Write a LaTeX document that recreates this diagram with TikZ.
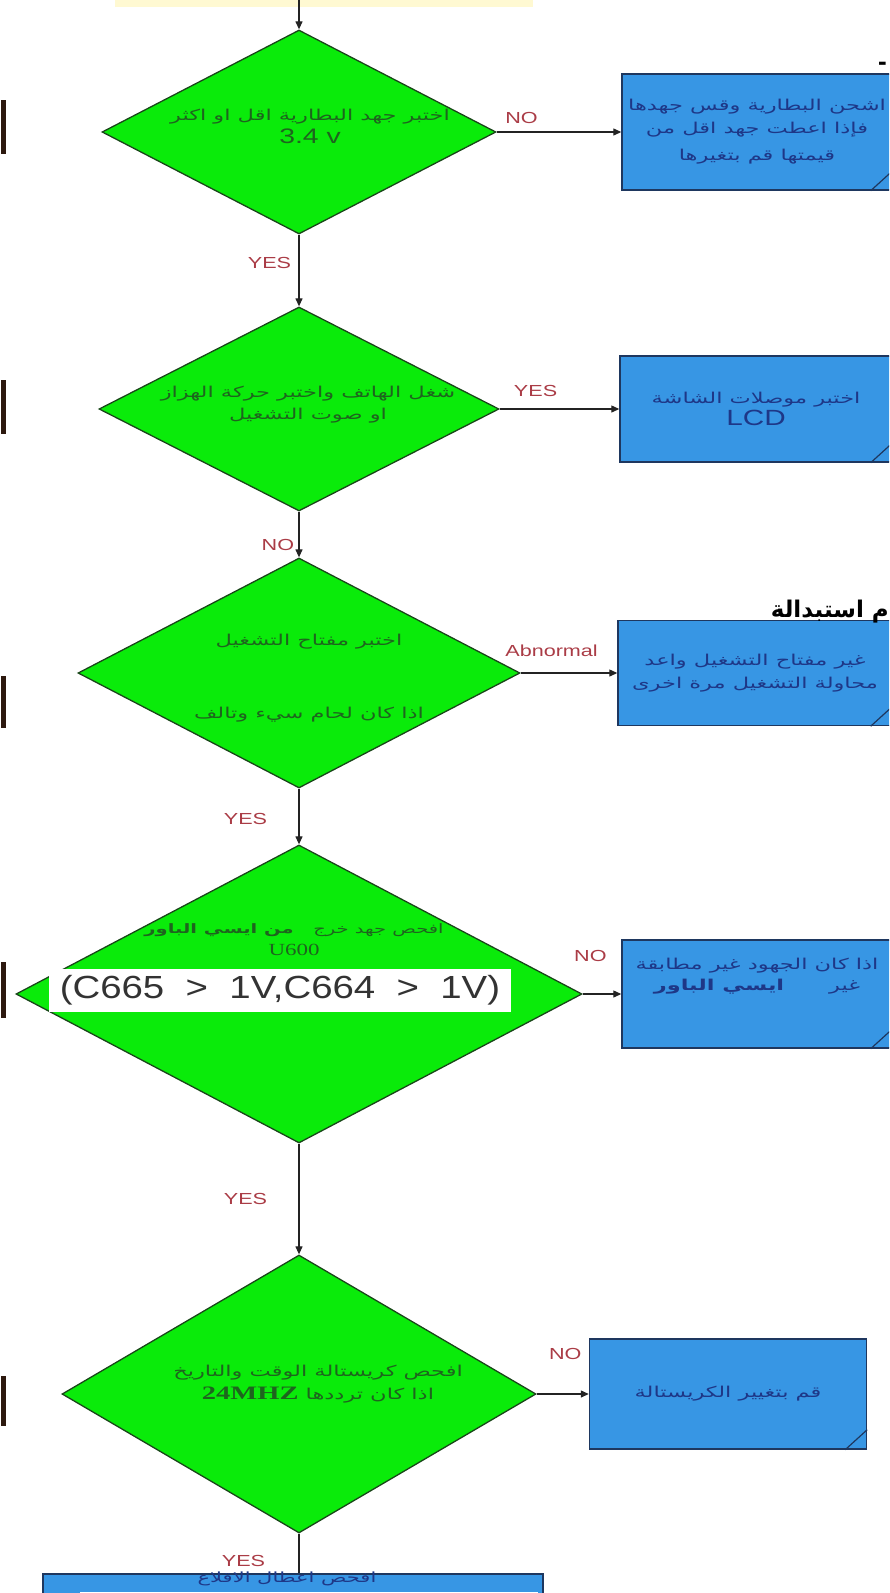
\documentclass[tikz,border=0pt]{standalone}
\usepackage{fontspec}
\usepackage{graphicx}
\setmainfont{Liberation Sans}
\newfontfamily\arabicfont[Script=Arabic]{DejaVu Sans}
\newfontfamily\serifnum{Liberation Serif}
\TeXXeTstate=1
\usetikzlibrary{arrows.meta,positioning,shapes.geometric}

\definecolor{flowgreen}{RGB}{10,235,10}
\definecolor{edgegreen}{RGB}{25,70,25}
\definecolor{txtgreen}{RGB}{30,100,30}
\definecolor{boxblue}{RGB}{55,150,228}
\definecolor{edgeblue}{RGB}{30,55,95}
\definecolor{txtblue}{RGB}{30,55,135}
\definecolor{labred}{RGB}{170,60,70}
\definecolor{arrowgray}{RGB}{35,35,35}
\definecolor{paleyellow}{RGB}{255,249,210}
\definecolor{barbrown}{RGB}{45,25,15}

\newcommand{\artxt}[1]{\scalebox{1.5}[1]{\arabicfont\beginR #1\endR}}
\newcommand{\wide}[1]{\scalebox{1.35}[1]{#1}}

\begin{document}
\begin{tikzpicture}[x=1pt, y=-1pt,
    decision/.style={diamond, draw=edgegreen, fill=flowgreen, line width=1.3pt, inner sep=0pt},
    dtext/.style={text=txtgreen, align=center, font=\fontsize{15}{19}\selectfont},
    action/.style={draw=edgeblue, fill=boxblue, line width=1.4pt, inner sep=0pt, text=txtblue, align=center, font=\fontsize{15}{19}\selectfont},
    answer/.style={text=labred, font=\fontsize{16}{18}\selectfont},
    flow/.style={-{Triangle[length=8pt,width=7pt]}, line width=1.2pt, arrowgray}
  ]
  \useasboundingbox (0,0) rectangle (889,1593);
  \clip (0,0) rectangle (889,1593);

  % cut-off pieces at the edges
  \fill[paleyellow] (115,-5) rectangle (533,7);
  \foreach \ya/\yb in {100/154, 380/434, 676/728, 962/1018, 1376/1426}
    \fill[barbrown] (1,\ya) rectangle (6,\yb);
  \coordinate (start) at (299,0);

  % decisions
  \node[decision, minimum width=394pt, minimum height=204pt] (d1) at (299,132) {};
  \node[decision, minimum width=400pt, minimum height=204pt] (d2) at (299,409) {};
  \node[decision, minimum width=442pt, minimum height=230pt] (d3) at (299,673) {};
  \node[decision, minimum width=566pt, minimum height=298pt] (d4) at (299,994) {};
  \node[decision, minimum width=474pt, minimum height=278pt] (d5) at (299,1394) {};

  \node[dtext] (t1) at (310,126) {\artxt{اختبر جهد البطارية اقل او اكثر}\\[4pt]\wide{\fontsize{21}{22}\selectfont 3.4 v}};
  \node[dtext] (t2) at (308,405) {\artxt{شغل الهاتف واختبر حركة الهزاز}\\[3pt]\artxt{او صوت التشغيل}};
  \node[dtext] (t3) at (309,678) {\artxt{اختبر مفتاح التشغيل}\\[54pt]\artxt{اذا كان لحام سيء وتالف}};
  \node[dtext] (t4) at (294,940) {{\fontsize{13}{16}\selectfont\artxt{افحص جهد خرج\quad{\bfseries من ايسي الباور}}}\\[3pt]\wide{\serifnum\fontsize{17}{18}\selectfont U600}};
  \node[fill=white, inner sep=0pt, minimum width=462pt, minimum height=43pt, text=black!80,
    font=\fontsize{32}{34}\selectfont] (w4) at (280,990) {\scalebox{1.2}[1]{(C665 \ > \ 1V,C664 \ > \ 1V)}};
  \node[dtext] (t5) at (318,1384) {\artxt{افحص كريستالة الوقت والتاريخ}\\[4pt]\artxt{اذا كان ترددها \beginL{\serifnum\bfseries\fontsize{19}{19}\selectfont 24MHZ}\endL}};

  % actions
  \node[action, minimum width=270pt, minimum height=116pt] (b1) at (757,132)
    {\artxt{اشحن البطارية وقس جهدها}\\[4pt]\artxt{فإذا اعطت جهد اقل من}\\[8pt]\artxt{قيمتها قم بتغيرها}};
  \node[action, minimum width=272pt, minimum height=106pt] (b2) at (756,409)
    {\artxt{اختبر موصلات الشاشة}\\[2pt]\wide{\fontsize{22}{22}\selectfont LCD}};
  \node[action, minimum width=274pt, minimum height=105pt] (b3) at (755,673)
    {\artxt{غير مفتاح التشغيل واعد}\\[4pt]\artxt{محاولة التشغيل مرة اخرى}};
  \node[action, minimum width=270pt, minimum height=108pt] (b4) at (757,994) {};
  \node[text=txtblue, align=center, font=\fontsize{15}{19}\selectfont] (b4txt) at (757,976)
    {\artxt{اذا كان الجهود غير مطابقة}\\[2pt]\artxt{غير\qquad{\bfseries ايسي الباور}}};
  \node[action, minimum width=277pt, minimum height=110pt] (b5) at (728,1394) {\artxt{قم بتغيير الكريستالة}};
  \node[action, minimum width=500pt, minimum height=60pt] (b6) at (293,1604) {};
  \node[fill=white, inner sep=0pt, minimum width=458pt, minimum height=24pt] (w6) at (309,1604) {};
  \node[text=txtblue, font=\fontsize{14}{17}\selectfont] (b6txt) at (287,1579) {\artxt{افحص اعطال الاقلاع}};

  \foreach \b in {b1,b2,b3,b4,b5}
    \draw[edgeblue, line width=1.2pt] ([xshift=-22pt]\b.south east) -- ([yshift=20pt]\b.south east);

  % headings cut by the right edge
  \node[font=\fontsize{23}{25}\selectfont\bfseries, anchor=east, inner sep=0pt] (h1) at (889,612) {\arabicfont\beginR م استبدالة\endR};
  \node[font=\fontsize{26}{28}\selectfont\bfseries, anchor=east, inner sep=0pt] (h0) at (887,66) {-};

  % connectors
  \draw[flow] (start) -- (d1.north);
  \draw[flow] (d1.east) -- node[answer, pos=0.2, above=4pt] (no1) {\wide{NO}} (b1.west);
  \draw[flow] (d1.south) -- node[answer, pos=0.4, left=4pt] (yes1) {\wide{YES}} (d2.north);
  \draw[flow] (d2.east) -- node[answer, pos=0.3, above=8pt] (yes2) {\wide{YES}} (b2.west);
  \draw[flow] (d2.south) -- node[answer, pos=0.72, left=1pt] (no2) {\wide{NO}} (d3.north);
  \draw[flow] (d3.east) -- node[answer, pos=0.32, above=12pt] (abn) {\wide{Abnormal}} (b3.west);
  \draw[flow] (d3.south) -- node[answer, pos=0.55, left=28pt] (yes3) {\wide{YES}} (d4.north);
  \draw[flow] (d4.east) -- node[answer, pos=0.2, above=28pt] (no4) {\wide{NO}} (b4.west);
  \draw[flow] (d4.south) -- node[answer, pos=0.5, left=28pt] (yes4) {\wide{YES}} (d5.north);
  \draw[flow] (d5.east) -- node[answer, pos=0.55, above=30pt] (no5) {\wide{NO}} (b5.west);
  \draw[line width=1.2pt, arrowgray] (d5.south) -- node[answer, pos=0.7, left=30pt] (yes5) {\wide{YES}} (d5.south |- b6.north);
\end{tikzpicture}
\end{document}
